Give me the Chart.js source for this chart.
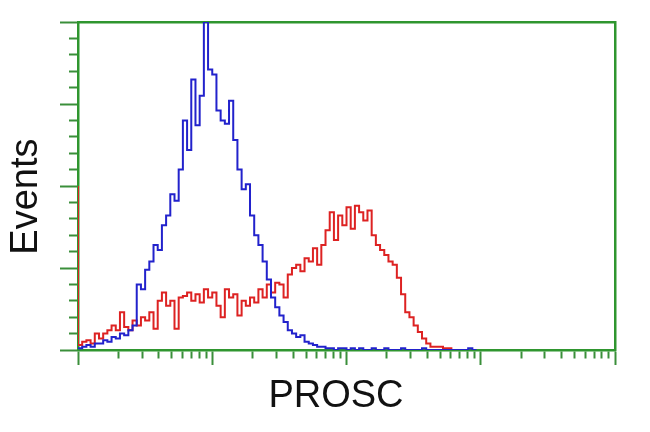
<!DOCTYPE html>
<html><head><meta charset="utf-8">
<script src="https://cdn.jsdelivr.net/npm/chart.js@4/dist/chart.umd.min.js"></script>
<style>html,body{margin:0;padding:0;background:#fff}canvas{display:block}</style>
</head><body>
<canvas id="c" width="650" height="432"></canvas>
<script>
// ---- data ----
const xTitle = 'PROSC  ';
const yTitle = 'Events  ';
const binCount = 128;   // histogram channels spanning the 4-decade axis
const decades = 4;
const yMax = 200;
const yMajorStep = 50;
const yMinorStep = 10;
const minorMultipliers = [2, 3, 4, 5, 6, 7, 8, 9];

// blue: control histogram (counts per channel, starting at channel 0)
const blueCounts = [
  1,1,2,3,2,4,4,6,5,8, 7,10,9,12,15,40,37,49,54,64,
  61,76,82,95,91,110,140,122,165,137, 155,200,171,168,146,140,138,152,128,110,
  98,101,82,70,64,54,43,32,26,21, 17,12,10,8,9,5,4,3,2,2,
  1,1,0,1,1,0,1,0,1,0, 0,1,0,0,1,0,0,0,1,0, 0,0,0,1,0,0,0,0,0,0, 0,0,0,0,1,0
];
// red: PROSC stained histogram
const redCounts = [
  100,3,5,6,4,10,7,10,12,15, 12,23,14,12,18,15,20,18,23,13,
  30,35,27,30,13,32,33,35,30,34, 29,37,32,35,27,20,37,32,34,21,
  30,27,32,29,37,32,40,35,41,40, 32,46,50,52,48,56,54,62,52,64,
  73,84,67,82,76,87,74,88,84,79, 85,70,64,61,58,54,52,44,34,23,
  20,15,11,7,4,2,2,2,1,1, 0
];

// ---- styling ----
const green = '#2f962f';
const tickGreen = '#3a8f3a';
const perDecade = binCount / decades;

const toPoints = arr => arr.map((v, i) => ({x: i, y: v}));

const xTicks = [];
for (let d = 0; d < decades; d++) {
  xTicks.push({value: d * perDecade, major: true});
  minorMultipliers.forEach(m => xTicks.push({value: (d + Math.log10(m)) * perDecade, major: false}));
}
xTicks.push({value: binCount, major: true});

const yTicks = [];
for (let v = 0; v <= yMax; v += yMinorStep) yTicks.push({value: v, major: v % yMajorStep === 0});

const isMajor = ctx => ctx.tick && ctx.tick.major;

new Chart(document.getElementById('c'), {
  type: 'line',
  data: {
    datasets: [
      {data: toPoints(blueCounts), borderColor: '#2222cc', borderWidth: 2, pointRadius: 0, stepped: 'after', fill: false},
      {data: toPoints(redCounts), borderColor: '#dd2222', borderWidth: 2, pointRadius: 0, stepped: 'after', fill: false}
    ]
  },
  options: {
    responsive: false,
    animation: false,
    devicePixelRatio: 1,
    layout: {padding: 0, autoPadding: false},
    plugins: {legend: {display: false}, tooltip: {enabled: false}},
    scales: {
      x: {
        type: 'linear', position: 'bottom', min: 0, max: binCount,
        afterBuildTicks: s => { s.ticks = xTicks.map(t => ({...t})); },
        afterFit: s => { s.height = 82; },
        ticks: {display: false},
        grid: {
          drawOnChartArea: false, drawTicks: true, tickLength: 15,
          tickColor: tickGreen, tickWidth: 2,
          tickBorderDash: ctx => isMajor(ctx) ? [] : [7, 100]
        },
        border: {color: green, width: 2.5},
        title: {display: true, text: xTitle, color: '#111',
          font: {family: 'Liberation Sans, Arial, sans-serif', size: 38},
          padding: {top: 0, bottom: 13}}
      },
      y: {
        type: 'linear', position: 'left', min: 0, max: yMax,
        afterBuildTicks: s => { s.ticks = yTicks.map(t => ({...t})); },
        afterFit: s => { s.width = 78; },
        ticks: {display: false},
        grid: {
          drawOnChartArea: false, drawTicks: true, tickLength: 18,
          tickColor: tickGreen, tickWidth: 2,
          tickBorderDash: ctx => isMajor(ctx) ? [] : [0, 9, 8, 100]
        },
        border: {color: green, width: 2.5},
        title: {display: true, text: yTitle, color: '#111',
          font: {family: 'Liberation Sans, Arial, sans-serif', size: 38},
          padding: {top: 4, bottom: 0}}
      },
      xTop: {
        type: 'linear', position: 'top', min: 0, max: 1,
        afterFit: s => { s.height = 22; },
        ticks: {display: false},
        grid: {display: false},
        border: {color: green, width: 2.5}
      },
      yRight: {
        type: 'linear', position: 'right', min: 0, max: 1,
        afterFit: s => { s.width = 35; },
        ticks: {display: false},
        grid: {display: false},
        border: {color: green, width: 2.5}
      }
    }
  }
});
</script>
</body></html>
